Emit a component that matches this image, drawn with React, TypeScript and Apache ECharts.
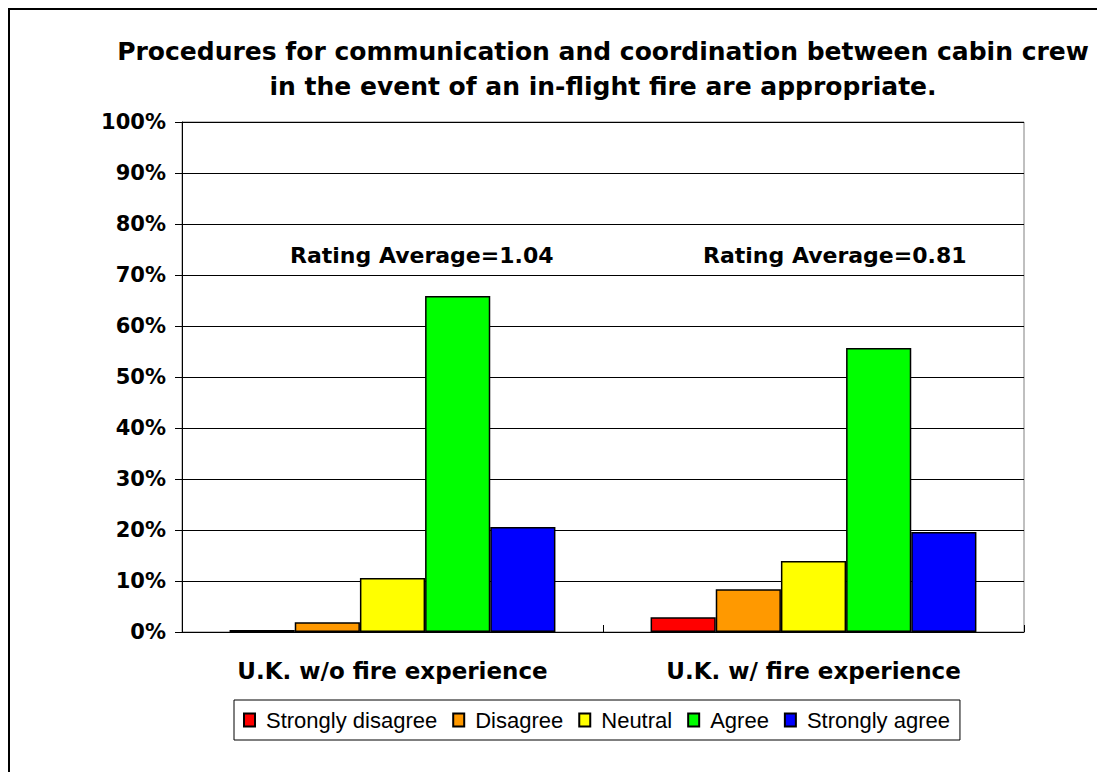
import React, { useEffect, useRef } from "react";
import * as echarts from "echarts";

const titleLines = [
  "Procedures for communication and coordination between cabin crew",
  "in the event of an in-flight fire are appropriate.",
];
const categories = ["U.K. w/o fire experience", "U.K. w/ fire experience"];
const seriesNames = ["Strongly disagree", "Disagree", "Neutral", "Agree", "Strongly agree"];
const seriesColors = ["#ff0000", "#ff9900", "#ffff00", "#00ff00", "#0000ff"];
const stronglyDisagree = [0.4, 2.9];
const disagree = [1.9, 8.4];
const neutral = [10.6, 13.9];
const agree = [65.9, 55.7];
const stronglyAgree = [20.6, 19.6];
const ratingAverages = ["Rating Average=1.04", "Rating Average=0.81"];

const seriesValues = [stronglyDisagree, disagree, neutral, agree, stronglyAgree];

export default function App() {
  const ref = useRef<HTMLDivElement>(null);
  useEffect(() => {
    if (!ref.current) return;
    const chart = echarts.init(ref.current, null, { renderer: "svg" });
    const bold = { fontFamily: "DejaVu Sans", fontWeight: "bold" as const, color: "#000" };
    chart.setOption({
      animation: false,
      backgroundColor: "#fff",
      title: {
        text: titleLines.join("\n"),
        left: 588,
        textAlign: "center",
        top: 19,
        textStyle: { ...bold, fontSize: 25, lineHeight: 35 },
      },
      grid: {
        left: 172,
        top: 112,
        width: 842,
        height: 510,
        show: true,
        borderColor: "#808080",
        borderWidth: 1,
      },
      legend: {
        data: seriesNames,
        left: 224,
        top: 690,
        orient: "horizontal",
        borderColor: "#000",
        borderWidth: 1,
        padding: [9, 10, 9, 9],
        itemGap: 15,
        itemWidth: 11,
        itemHeight: 13,
        icon: "rect",
        textStyle: { fontFamily: "Liberation Sans", fontSize: 22, color: "#000", padding: [0, 0, 0, 6] },
      },
      xAxis: {
        type: "category",
        data: categories,
        axisLine: { show: true, lineStyle: { color: "#000", width: 1 } },
        axisTick: { show: true, inside: true, length: 7, alignWithLabel: false, lineStyle: { color: "#000" } },
        axisLabel: { ...bold, fontSize: 23, margin: 27 },
        splitLine: { show: false },
      },
      yAxis: {
        type: "value",
        min: 0,
        max: 100,
        interval: 10,
        axisLine: { show: true, lineStyle: { color: "#000", width: 1 } },
        axisTick: { show: true, inside: false, length: 7, lineStyle: { color: "#000" } },
        axisLabel: { ...bold, fontSize: 21, margin: 16, formatter: (v: number) => `${v}%` },
        splitLine: { show: true, lineStyle: { color: "#000", width: 1 } },
      },
      series: seriesNames.map((name, i) => ({
        name,
        type: "bar",
        data: seriesValues[i],
        barGap: "0%",
        barCategoryGap: "22.6%",
        itemStyle: { color: seriesColors[i], borderColor: "#000", borderWidth: 1.5 },
      })),
      graphic: ratingAverages.map((t, i) => ({
        type: "text",
        left: i === 0 ? 280 : 693,
        top: 234,
        style: { text: t, fontFamily: "DejaVu Sans", fontWeight: "bold", fontSize: 22, fill: "#000" },
      })),
    });
    return () => chart.dispose();
  }, []);
  return (
    <div style={{ width: 1100, height: 770, border: "2px solid #000", boxSizing: "border-box" }}>
      <div ref={ref} style={{ width: 1096, height: 766 }} />
    </div>
  );
}
